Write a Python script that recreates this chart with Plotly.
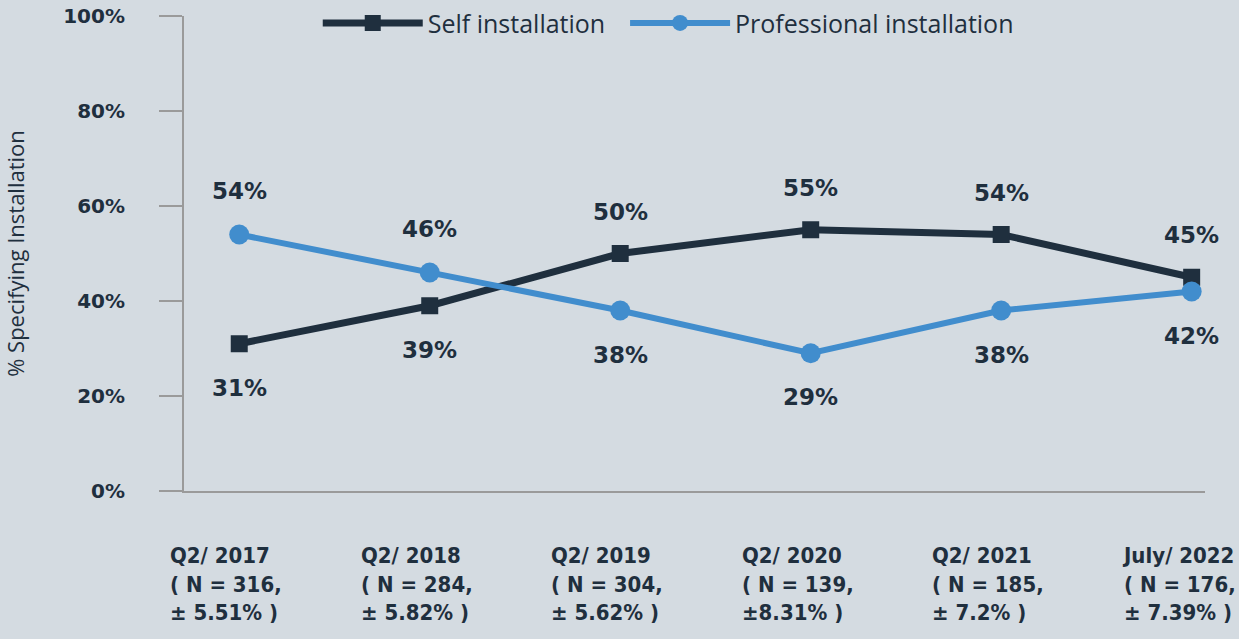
import plotly.graph_objects as go

periods = ["Q2/ 2017", "Q2/ 2018", "Q2/ 2019", "Q2/ 2020", "Q2/ 2021", "July/ 2022"]
n_labels = ["( N = 316,", "( N = 284,", "( N = 304,", "( N = 139,", "( N = 185,", "( N = 176,"]
moe_labels = ["± 5.51% )", "± 5.82% )", "± 5.62% )", "±8.31% )", "± 7.2% )", "± 7.39% )"]

self_install = [31, 39, 50, 55, 54, 45]
pro_install = [54, 46, 38, 29, 38, 42]

y_ticks = [0, 20, 40, 60, 80, 100]

DARK = "#1f2f3e"
BLUE = "#418dcd"
BG = "#d4dbe1"
AXIS = "#9a9a9a"

x = list(range(len(periods)))

fig = go.Figure()
fig.add_trace(go.Scatter(
    x=x, y=self_install, name="Self installation", mode="lines+markers",
    line=dict(color=DARK, width=7),
    marker=dict(symbol="square", size=17, color=DARK),
    legend="legend",
))
fig.add_trace(go.Scatter(
    x=x, y=pro_install, name="Professional installation", mode="lines+markers",
    line=dict(color=BLUE, width=6),
    marker=dict(symbol="circle", size=20, color=BLUE),
    legend="legend2",
))

label_font = dict(family="DejaVu Sans", size=23, color=DARK, weight="bold")
for i in x:
    s, p = self_install[i], pro_install[i]
    fig.add_annotation(x=i, y=s, text=f"{s}%", showarrow=False, font=label_font,
                       yshift=42 if s > p else -44)
    fig.add_annotation(x=i, y=p, text=f"{p}%", showarrow=False, font=label_font,
                       yshift=44 if p > s else -44)

for i in x:
    fig.add_annotation(
        x=i, xref="x", y=0, yref="paper", yanchor="top", xanchor="center",
        xshift=-13, yshift=-50, align="left", showarrow=False,
        text=f"{periods[i]}<br>{n_labels[i]}<br>{moe_labels[i]}",
        font=dict(family="DejaVu Sans Condensed", size=22, color=DARK, weight="bold"),
    )

legend_common = dict(
    orientation="h", xanchor="left", y=0.985, yanchor="middle",
    font=dict(family="Open Sans", size=25, color=DARK),
    bgcolor="rgba(0,0,0,0)", itemwidth=100,
)

fig.update_layout(
    width=1239, height=639,
    paper_bgcolor=BG, plot_bgcolor=BG,
    margin=dict(l=184, r=34, t=16, b=148, autoexpand=False),
    showlegend=True,
    legend=dict(x=0.131, **legend_common),
    legend2=dict(x=0.432, **legend_common),
    xaxis=dict(
        range=[-0.29, 5.07], showgrid=False, zeroline=False,
        showline=True, linecolor=AXIS, linewidth=2,
        showticklabels=False, ticks="",
    ),
    yaxis=dict(
        range=[0, 100], tickmode="array", tickvals=y_ticks,
        ticktext=[f"{v}%" for v in y_ticks],
        showgrid=False, zeroline=False,
        showline=True, linecolor=AXIS, linewidth=2,
        ticks="outside", ticklen=23, tickwidth=2, tickcolor=AXIS,
        ticklabelstandoff=30,
        tickfont=dict(family="DejaVu Sans", size=20, color=DARK, weight="bold"),
        title=dict(text="% Specifying Installation", standoff=40,
                   font=dict(family="Open Sans", size=22, color=DARK)),
    ),
)

fig.write_html("out.html")
